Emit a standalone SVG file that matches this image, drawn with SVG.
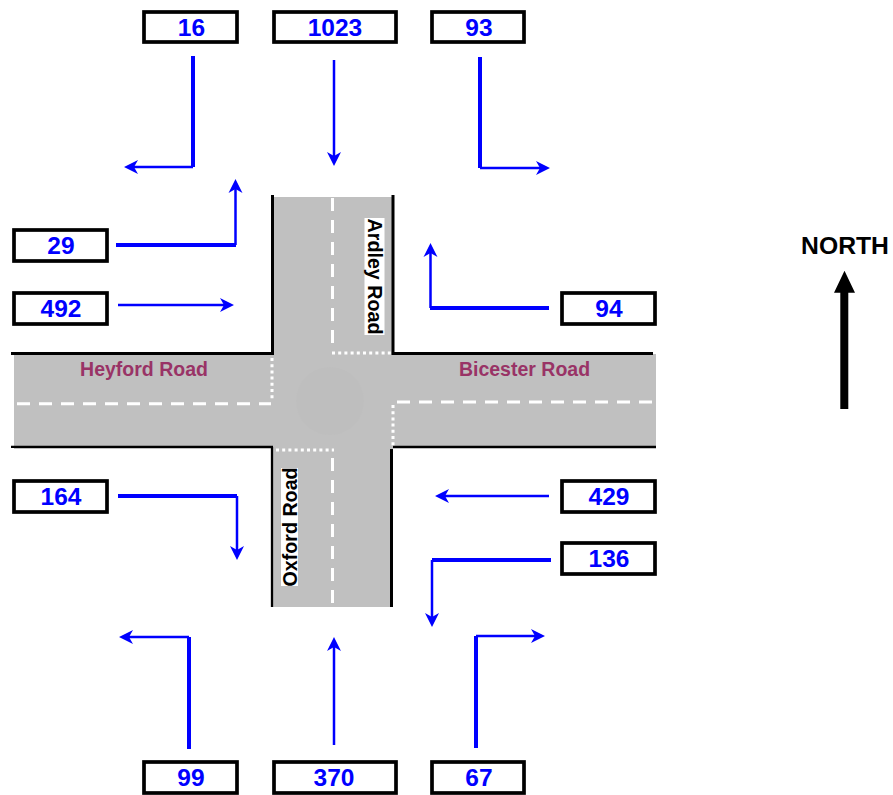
<svg xmlns="http://www.w3.org/2000/svg" width="893" height="795" viewBox="0 0 893 795">
<style>
.box{fill:#fff;stroke:#000;stroke-width:3.7}
.num{font:bold 24.500px "Liberation Sans",Arial,sans-serif;fill:#0000ff;text-anchor:middle}
.rn{font:bold 19.500px "Liberation Sans",Arial,sans-serif;fill:#993366;text-anchor:middle}
.rv{font:bold 19.700px "Liberation Sans",Arial,sans-serif;fill:#000;text-anchor:middle}
.kerb{fill:none;stroke:#000;stroke-width:3}
.kerbt{fill:none;stroke:#000;stroke-width:2.300}
.dash{fill:none;stroke:#fff;stroke-width:3;stroke-dasharray:13 9}
.dot{fill:none;stroke:#fff;stroke-width:3;stroke-dasharray:3 3.200}
.th{fill:none;stroke:#0000ff;stroke-width:4}
.tn{fill:none;stroke:#0000ff;stroke-width:2.500}
.ah{fill:#0000ff}
</style>
<defs>
<path id="ah" class="ah" d="M0 0L-14 -7L-10 0L-14 7Z"/>
</defs>
<g id="road">
<rect x="273" y="197" width="120" height="157" fill="#c0c0c0"/>
<rect x="273" y="446" width="118" height="161" fill="#c0c0c0"/>
<rect x="14" y="354" width="642" height="95" fill="#c0c0c0"/>
<circle cx="330" cy="401" r="34" fill="#bebebe"/>
<path class="kerb" d="M272.500 195V353.500H11M393 195V353.500H653"/>
<path class="kerbt" d="M11 446.800H273M393 446.800H656M272 447V607"/>
<path class="kerb" d="M391.500 449V607"/>
<path class="dash" d="M332.500 198V345M332.500 458V604M17 403.700H271M397 402H652"/>
<path class="dot" d="M332 353H392M272 358V399M276 450H334M393 405V447"/>
</g>
<g id="road-labels">
<text class="rn" x="144" y="375.500">Heyford Road</text>
<text class="rn" x="524.500" y="375.500">Bicester Road</text>
<g transform="translate(367.500 276.500) rotate(90)"><rect x="-58.500" y="-17" width="117" height="20" fill="#fff"/><text class="rv" y="0">Ardley Road</text></g>
<g transform="translate(297 527) rotate(-90)"><rect x="-59" y="-16" width="118" height="17" fill="#fff"/><text class="rv" y="0">Oxford Road</text></g>
</g>
<g id="connectors">
<path class="th" d="M193 56V167"/><path class="tn" d="M193 167H130"/><use href="#ah" transform="translate(124 167) rotate(180)"/>
<path class="tn" d="M334 60V160"/><use href="#ah" transform="translate(334 166) rotate(90)"/>
<path class="th" d="M480 57V168"/><path class="tn" d="M480 168H544"/><use href="#ah" transform="translate(550 168)"/>
<path class="th" d="M116 245H236"/><path class="tn" d="M235.500 245V185"/><use href="#ah" transform="translate(235.500 179) rotate(-90)"/>
<path class="tn" d="M118 305H228"/><use href="#ah" transform="translate(234 305)"/>
<path class="th" d="M549 308H430"/><path class="tn" d="M430.500 308V249"/><use href="#ah" transform="translate(430.500 243) rotate(-90)"/>
<path class="th" d="M118 496H237"/><path class="tn" d="M237 496V554"/><use href="#ah" transform="translate(237 560) rotate(90)"/>
<path class="tn" d="M549 496H441"/><use href="#ah" transform="translate(435 496) rotate(180)"/>
<path class="th" d="M551 560H432"/><path class="tn" d="M432 560V621"/><use href="#ah" transform="translate(432 627) rotate(90)"/>
<path class="th" d="M189 749V637"/><path class="tn" d="M189 637H125"/><use href="#ah" transform="translate(119 637) rotate(180)"/>
<path class="tn" d="M334 745V643"/><use href="#ah" transform="translate(334 637) rotate(-90)"/>
<path class="th" d="M476 748V636"/><path class="tn" d="M476 636H539"/><use href="#ah" transform="translate(545 636)"/>
</g>
<g id="n16"><rect class="box" x="144" y="12" width="93" height="30"/><text class="num" x="191.500" y="35.500">16</text></g>
<g id="n1023"><rect class="box" x="274" y="12" width="122" height="30"/><text class="num" x="335" y="35.500">1023</text></g>
<g id="n93"><rect class="box" x="432" y="12" width="92" height="30"/><text class="num" x="479" y="35.500">93</text></g>
<g id="n29"><rect class="box" x="14" y="230" width="93" height="31"/><text class="num" x="61" y="254">29</text></g>
<g id="n492"><rect class="box" x="14" y="293" width="93" height="31"/><text class="num" x="61" y="317">492</text></g>
<g id="n94"><rect class="box" x="562" y="293" width="93" height="31"/><text class="num" x="609" y="317">94</text></g>
<g id="n164"><rect class="box" x="14" y="481" width="93" height="31"/><text class="num" x="61" y="505">164</text></g>
<g id="n429"><rect class="box" x="562" y="481" width="93" height="31"/><text class="num" x="609" y="505">429</text></g>
<g id="n136"><rect class="box" x="562" y="543" width="93" height="31"/><text class="num" x="609" y="567">136</text></g>
<g id="n99"><rect class="box" x="144" y="762" width="93" height="31"/><text class="num" x="191" y="786">99</text></g>
<g id="n370"><rect class="box" x="274" y="762" width="122" height="31"/><text class="num" x="334" y="786">370</text></g>
<g id="n67"><rect class="box" x="432" y="762" width="92" height="31"/><text class="num" x="479" y="786">67</text></g>
<g id="north">
<text x="845" y="253.500" font-family="Liberation Sans, Arial, sans-serif" font-weight="bold" font-size="24.700" text-anchor="middle">NORTH</text>
<path d="M840.300 409V292.700H834L844.500 270.700L855 292.700H848.300V409Z" fill="#000"/>
</g>
</svg>
